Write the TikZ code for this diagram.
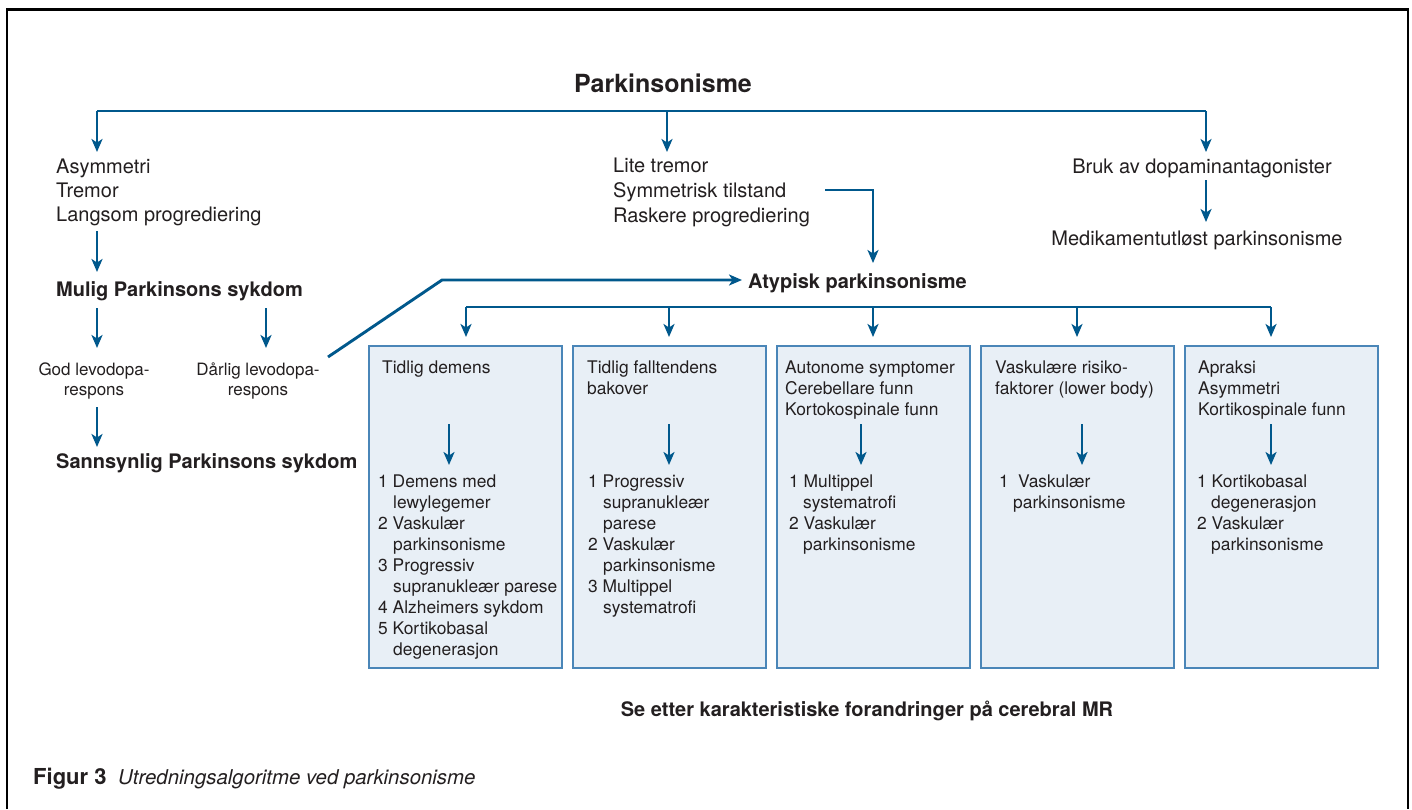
\documentclass[tikz,border=0pt]{standalone}
\usepackage{fontspec}
\setmainfont{TeX Gyre Heros}
\usetikzlibrary{arrows.meta}
\definecolor{lnblue}{RGB}{0,88,140}
\definecolor{boxline}{RGB}{74,134,184}
\definecolor{boxfill}{RGB}{232,239,246}
\definecolor{txt}{RGB}{35,31,32}
\begin{document}
\begin{tikzpicture}[x=1pt,y=-1pt,
  conn/.style={draw=lnblue,line width=2.9pt},
  arr/.style={conn,-{Stealth[length=13pt,width=11pt,inset=3.5pt]}},
  t/.style={anchor=base west,inner sep=0pt,font=\fontsize{20}{24}\selectfont,text=txt},
  tb/.style={anchor=base west,inner sep=0pt,font=\fontsize{20}{24}\selectfont\bfseries,text=txt},
  ts/.style={anchor=base,inner sep=0pt,font=\fontsize{17}{21}\selectfont,text=txt},
  bt/.style={anchor=base west,inner sep=0pt,font=\fontsize{17.4}{21}\selectfont,text=txt},
  panel/.style={draw=boxline,fill=boxfill,line width=1.8pt,minimum width=193pt,minimum height=322pt,inner sep=0pt}
]
\useasboundingbox (0,0) rectangle (1412,809);
\fill[white] (0,0) rectangle (1412,809);
% frame
\draw[line width=2.8pt] (7,809) -- (7,9.7) -- (1408,9.7) -- (1408,809);

% title
\node[tb,anchor=base,font=\fontsize{25}{30}\selectfont\bfseries] (park) at (663,92) {Parkinsonisme};

% top bar
\coordinate (barL) at (97,111);
\coordinate (barM) at (667,111);
\coordinate (barR) at (1206,111);
\coordinate (aL) at (97,152);
\coordinate (aM) at (667,152);
\coordinate (aR) at (1206,152);
\draw[conn] (barL) -- (barR);
\draw[arr] (barL) -- (aL);
\draw[arr] (barM) -- (aM);
\draw[arr] (barR) -- (aR);

% left column
\node[t] (asym) at (56,173) {Asymmetri};
\node[t] (tremor) at (56,197) {Tremor};
\node[t] (langsom) at (56,221) {Langsom progrediering};
\coordinate (l1s) at (97,231);
\coordinate (l1e) at (97,272);
\draw[arr] (l1s) -- (l1e);
\node[tb] (mulig) at (56,296) {Mulig Parkinsons sykdom};
\coordinate (l2s) at (97,308);
\coordinate (l2e) at (97,348);
\coordinate (l3s) at (266,308);
\coordinate (l3e) at (266,348);
\draw[arr] (l2s) -- (l2e);
\draw[arr] (l3s) -- (l3e);
\node[ts] (god1) at (94,375) {God levodopa-};
\node[ts] (god2) at (94,395) {respons};
\node[ts] (dar1) at (258,375) {Dårlig levodopa-};
\node[ts] (dar2) at (258,395) {respons};
\coordinate (l4s) at (97,407);
\coordinate (l4e) at (97,447);
\draw[arr] (l4s) -- (l4e);
\node[tb] (sann) at (56,468) {Sannsynlig Parkinsons sykdom};

% middle column
\node[t] (lite) at (613,172) {Lite tremor};
\node[t] (sym) at (613,197) {Symmetrisk tilstand};
\node[t] (rask) at (613,222) {Raskere progrediering};
\node[tb] (atyp) at (748,288) {Atypisk parkinsonisme};
\coordinate (e1s) at (825,190);
\coordinate (e1k) at (873,190);
\coordinate (e1e) at (873,263);
\draw[arr] (e1s) -- (e1k) -- (e1e);
\coordinate (d1s) at (328,357);
\coordinate (d1k) at (442,280);
\coordinate (d1e) at (742,280);
\draw[arr] (d1s) -- (d1k) -- (d1e);

% right column
\node[t,anchor=base] (bruk) at (1202,173) {Bruk av dopaminantagonister};
\coordinate (r1s) at (1206,180);
\coordinate (r1e) at (1206,222);
\draw[arr] (r1s) -- (r1e);
\node[t,anchor=base] (medi) at (1197,245) {Medikamentutløst parkinsonisme};

% boxes
\node[panel] (b1) at (465.5,507) {};
\node[panel] (b2) at (669.5,507) {};
\node[panel] (b3) at (873.5,507) {};
\node[panel] (b4) at (1077.5,507) {};
\node[panel] (b5) at (1281.5,507) {};

% distribution bar
\coordinate (dbL) at (466,307);
\coordinate (db2) at (669,307);
\coordinate (db3) at (873,307);
\coordinate (db4) at (1077,307);
\coordinate (dbR) at (1271,307);
\coordinate (dt1) at (466,337);
\coordinate (dt2) at (669,337);
\coordinate (dt3) at (873,337);
\coordinate (dt4) at (1077,337);
\coordinate (dt5) at (1271,337);
\draw[conn] (dbL) -- (dbR);
\draw[arr] (dbL) -- (dt1);
\draw[arr] (db2) -- (dt2);
\draw[arr] (db3) -- (dt3);
\draw[arr] (db4) -- (dt4);
\draw[arr] (dbR) -- (dt5);

% box 1
\node[bt] (b1h1) at (382,373) {Tidlig demens};
\coordinate (i1s) at (449,424);
\coordinate (i1e) at (449,465);
\draw[arr] (i1s) -- (i1e);
\node[bt] (b1l1) at (378,487) {1 Demens med};
\node[bt] (b1l2) at (393,508) {lewylegemer};
\node[bt] (b1l3) at (378,529) {2 Vaskulær};
\node[bt] (b1l4) at (393,550) {parkinsonisme};
\node[bt] (b1l5) at (378,571) {3 Progressiv};
\node[bt] (b1l6) at (393,592) {supranukleær parese};
\node[bt] (b1l7) at (378,613) {4 Alzheimers sykdom};
\node[bt] (b1l8) at (378,634) {5 Kortikobasal};
\node[bt] (b1l9) at (393,655) {degenerasjon};

% box 2
\node[bt] (b2h1) at (587,373) {Tidlig falltendens};
\node[bt] (b2h2) at (587,394) {bakover};
\coordinate (i2s) at (669,424);
\coordinate (i2e) at (669,465);
\draw[arr] (i2s) -- (i2e);
\node[bt] (b2l1) at (588,487) {1 Progressiv};
\node[bt] (b2l2) at (603,508) {supranukleær};
\node[bt] (b2l3) at (603,529) {parese};
\node[bt] (b2l4) at (588,550) {2 Vaskulær};
\node[bt] (b2l5) at (603,571) {parkinsonisme};
\node[bt] (b2l6) at (588,592) {3 Multippel};
\node[bt] (b2l7) at (603,613) {systematrofi};

% box 3
\node[bt] (b3h1) at (785,373) {Autonome symptomer};
\node[bt] (b3h2) at (785,394) {Cerebellare funn};
\node[bt] (b3h3) at (785,415) {Kortokospinale funn};
\coordinate (i3s) at (861,424);
\coordinate (i3e) at (861,465);
\draw[arr] (i3s) -- (i3e);
\node[bt] (b3l1) at (789,487) {1 Multippel};
\node[bt] (b3l2) at (803,508) {systematrofi};
\node[bt] (b3l3) at (789,529) {2 Vaskulær};
\node[bt] (b3l4) at (803,550) {parkinsonisme};

% box 4
\node[bt] (b4h1) at (995,373) {Vaskulære risiko-};
\node[bt] (b4h2) at (995,394) {faktorer (lower body)};
\coordinate (i4s) at (1082,424);
\coordinate (i4e) at (1082,465);
\draw[arr] (i4s) -- (i4e);
\node[bt] (b4n1) at (999,487) {1};
\node[bt] (b4l1) at (1018,487) {Vaskulær};
\node[bt] (b4l2) at (1013,508) {parkinsonisme};

% box 5
\node[bt] (b5h1) at (1198,373) {Apraksi};
\node[bt] (b5h2) at (1198,394) {Asymmetri};
\node[bt] (b5h3) at (1198,415) {Kortikospinale funn};
\coordinate (i5s) at (1271,424);
\coordinate (i5e) at (1271,465);
\draw[arr] (i5s) -- (i5e);
\node[bt] (b5l1) at (1197,487) {1 Kortikobasal};
\node[bt] (b5l2) at (1211,508) {degenerasjon};
\node[bt] (b5l3) at (1197,529) {2 Vaskulær};
\node[bt] (b5l4) at (1211,550) {parkinsonisme};

% bottom
\node[tb,anchor=base] (mr) at (867,716) {Se etter karakteristiske forandringer på cerebral MR};
\node[tb,font=\fontsize{22}{26}\selectfont\bfseries] (fig) at (33,784) {Figur 3};
\node[t,font=\fontsize{20.4}{24}\selectfont\itshape] (cap) at (118,784) {Utredningsalgoritme ved parkinsonisme};
\end{tikzpicture}
\end{document}
